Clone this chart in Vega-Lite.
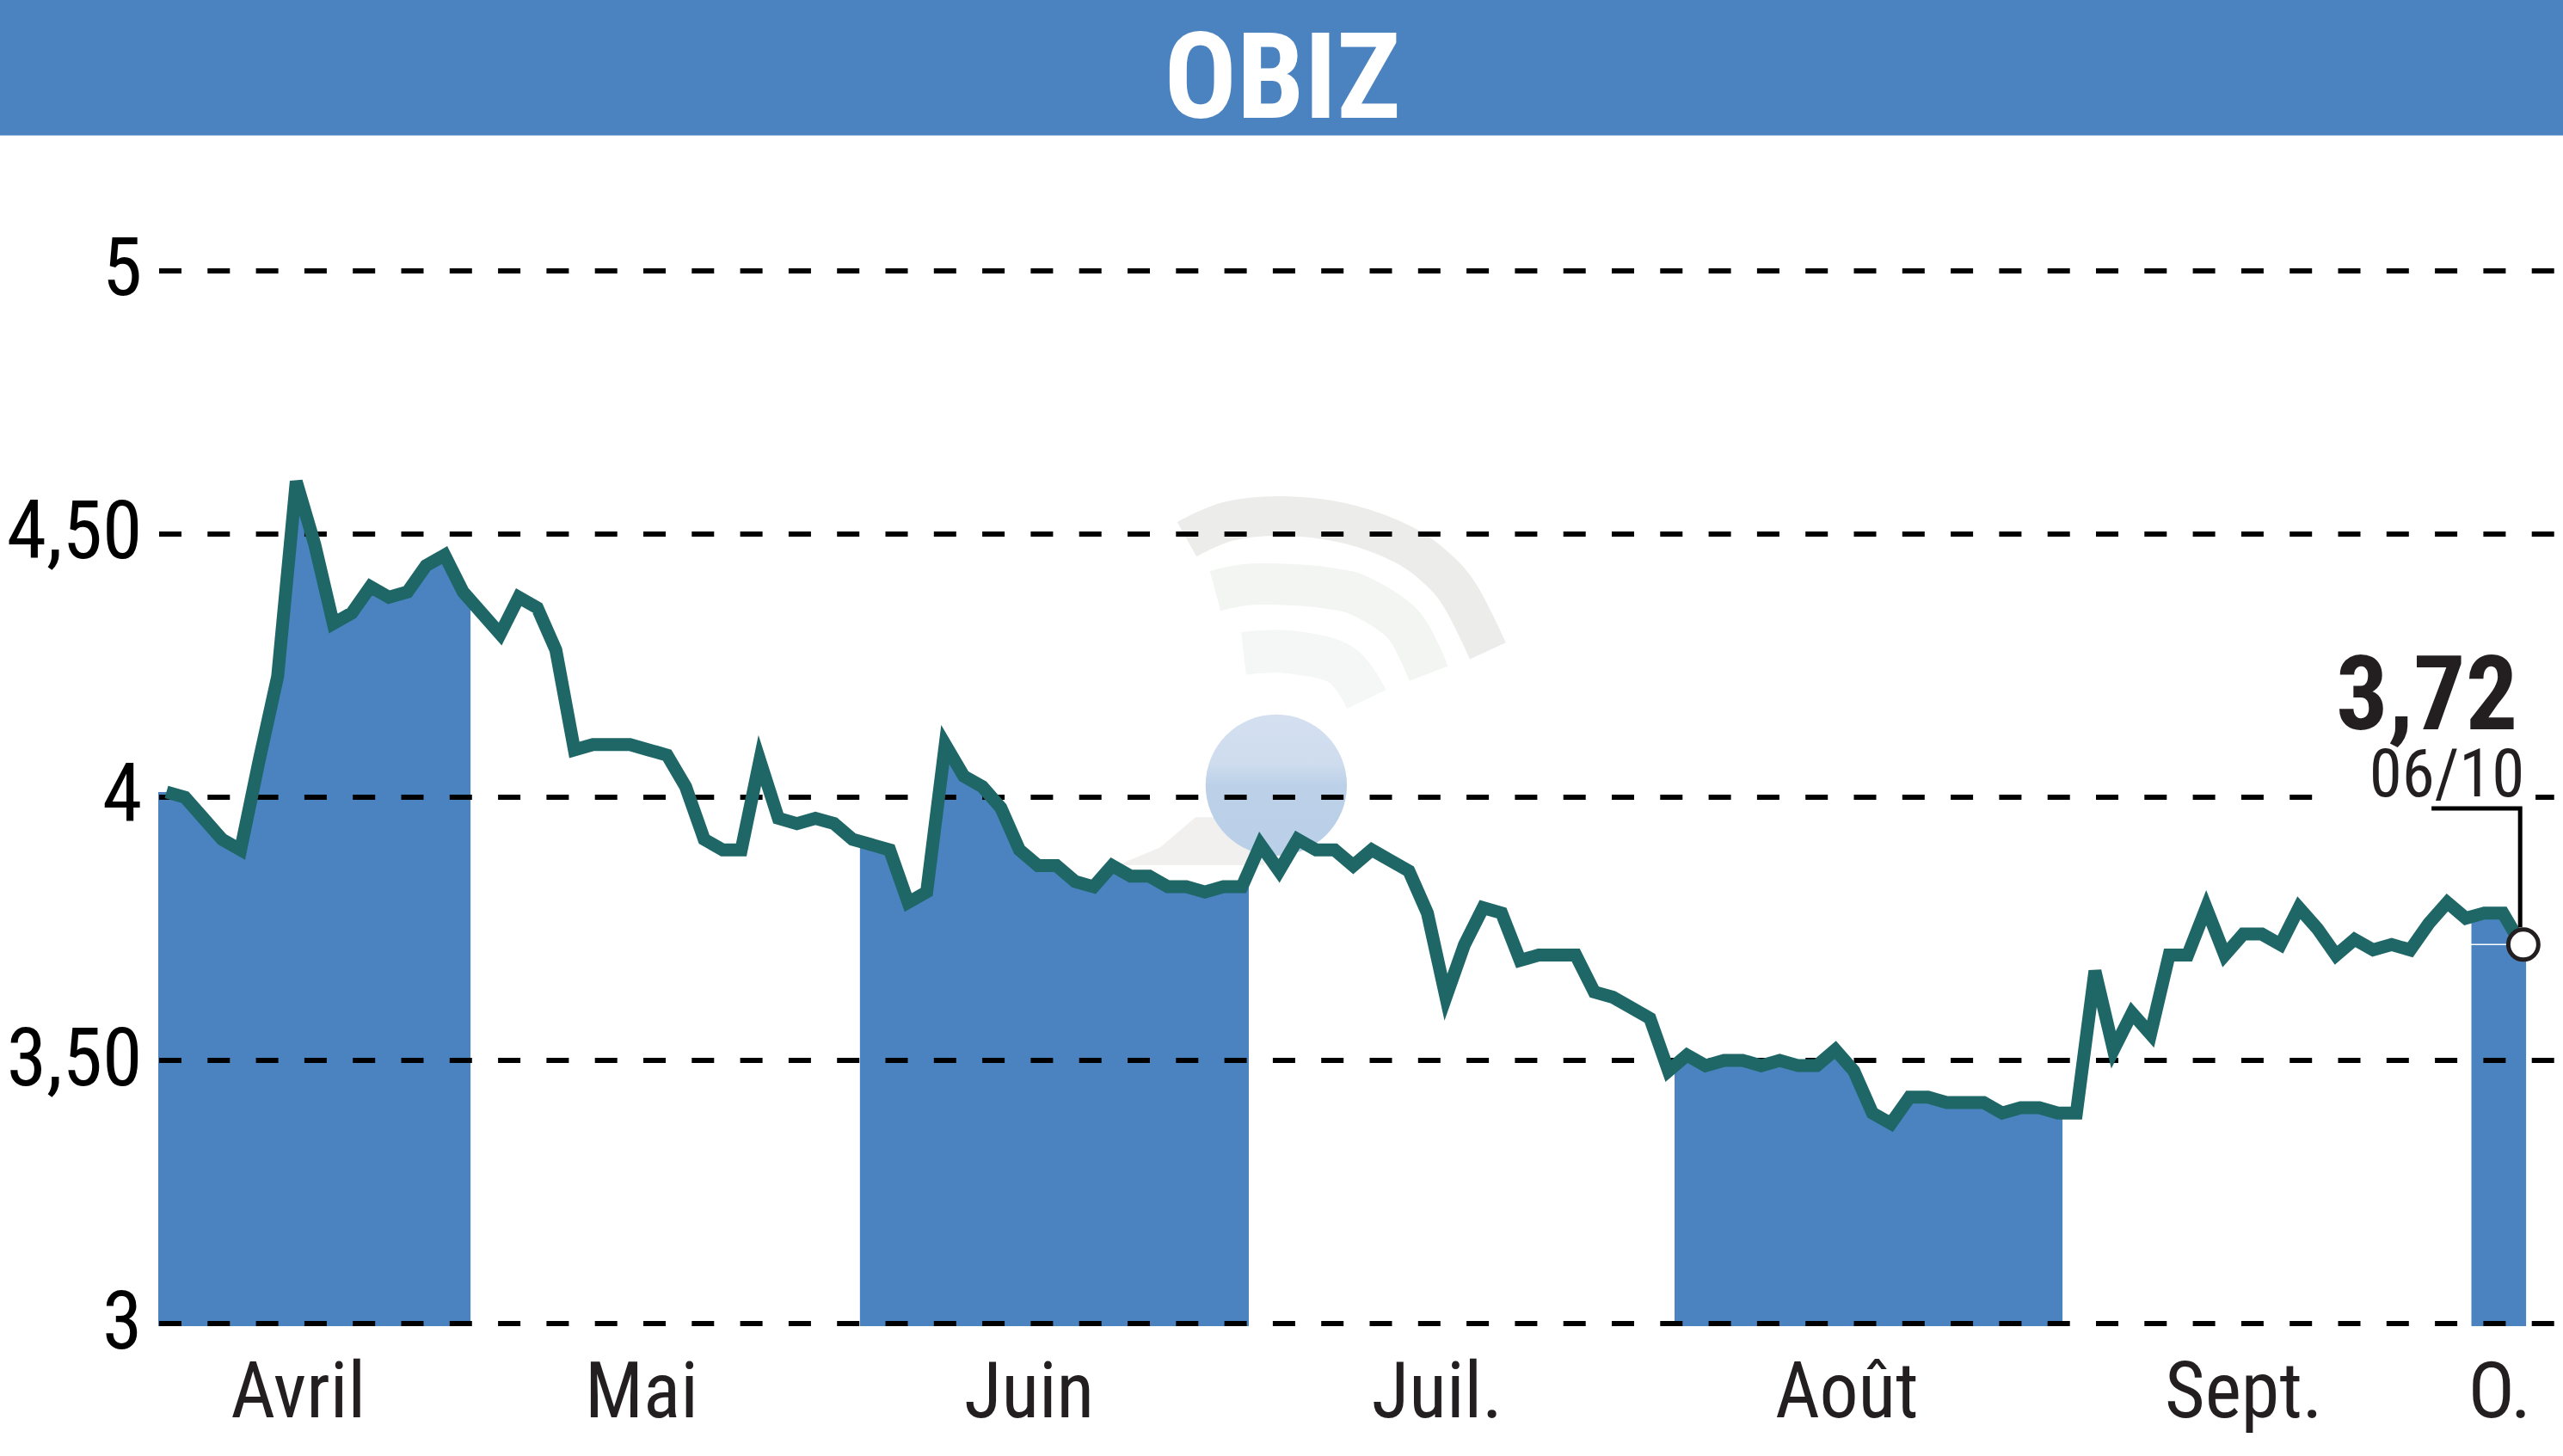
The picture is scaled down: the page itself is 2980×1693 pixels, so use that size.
{
"$schema":"https://vega.github.io/schema/vega-lite/v6.json",
"width":2796,"height":1542,"autosize":"none",
"padding":{"left":184,"top":0,"right":0,"bottom":151},
"background":"white",
"config":{"view":{"stroke":null},"font":"Roboto Condensed, Open Sans Condensed, DejaVu Sans Condensed"},
"datasets":{
"prices":[
{"day":0,"value":4.01},{"day":1,"value":4.00},{"day":2,"value":3.96},{"day":3,"value":3.92},{"day":4,"value":3.90},{"day":5,"value":4.07},{"day":6,"value":4.23},{"day":7,"value":4.60},{"day":8,"value":4.48},{"day":9,"value":4.33},
{"day":10,"value":4.35},{"day":11,"value":4.40},{"day":12,"value":4.38},{"day":13,"value":4.39},{"day":14,"value":4.44},{"day":15,"value":4.46},{"day":16,"value":4.39},{"day":17,"value":4.35},{"day":18,"value":4.31},{"day":19,"value":4.38},
{"day":20,"value":4.36},{"day":21,"value":4.28},{"day":22,"value":4.09},{"day":23,"value":4.10},{"day":24,"value":4.10},{"day":25,"value":4.10},{"day":26,"value":4.09},{"day":27,"value":4.08},{"day":28,"value":4.02},{"day":29,"value":3.92},
{"day":30,"value":3.90},{"day":31,"value":3.90},{"day":32,"value":4.07},{"day":33,"value":3.96},{"day":34,"value":3.95},{"day":35,"value":3.96},{"day":36,"value":3.95},{"day":37,"value":3.92},{"day":38,"value":3.91},{"day":39,"value":3.90},
{"day":40,"value":3.80},{"day":41,"value":3.82},{"day":42,"value":4.10},{"day":43,"value":4.04},{"day":44,"value":4.02},{"day":45,"value":3.98},{"day":46,"value":3.90},{"day":47,"value":3.87},{"day":48,"value":3.87},{"day":49,"value":3.84},
{"day":50,"value":3.83},{"day":51,"value":3.87},{"day":52,"value":3.85},{"day":53,"value":3.85},{"day":54,"value":3.83},{"day":55,"value":3.83},{"day":56,"value":3.82},{"day":57,"value":3.83},{"day":58,"value":3.83},{"day":59,"value":3.91},
{"day":60,"value":3.86},{"day":61,"value":3.92},{"day":62,"value":3.90},{"day":63,"value":3.90},{"day":64,"value":3.87},{"day":65,"value":3.90},{"day":66,"value":3.88},{"day":67,"value":3.86},{"day":68,"value":3.78},{"day":69,"value":3.62},
{"day":70,"value":3.72},{"day":71,"value":3.79},{"day":72,"value":3.78},{"day":73,"value":3.69},{"day":74,"value":3.70},{"day":75,"value":3.70},{"day":76,"value":3.70},{"day":77,"value":3.63},{"day":78,"value":3.62},{"day":79,"value":3.60},
{"day":80,"value":3.58},{"day":81,"value":3.48},{"day":82,"value":3.51},{"day":83,"value":3.49},{"day":84,"value":3.50},{"day":85,"value":3.50},{"day":86,"value":3.49},{"day":87,"value":3.50},{"day":88,"value":3.49},{"day":89,"value":3.49},
{"day":90,"value":3.52},{"day":91,"value":3.48},{"day":92,"value":3.40},{"day":93,"value":3.38},{"day":94,"value":3.43},{"day":95,"value":3.43},{"day":96,"value":3.42},{"day":97,"value":3.42},{"day":98,"value":3.42},{"day":99,"value":3.40},
{"day":100,"value":3.41},{"day":101,"value":3.41},{"day":102,"value":3.40},{"day":103,"value":3.40},{"day":104,"value":3.67},{"day":105,"value":3.52},{"day":106,"value":3.59},{"day":107,"value":3.55},{"day":108,"value":3.70},{"day":109,"value":3.70},
{"day":110,"value":3.79},{"day":111,"value":3.70},{"day":112,"value":3.74},{"day":113,"value":3.74},{"day":114,"value":3.72},{"day":115,"value":3.79},{"day":116,"value":3.75},{"day":117,"value":3.70},{"day":118,"value":3.73},{"day":119,"value":3.71},
{"day":120,"value":3.72},{"day":121,"value":3.71},{"day":122,"value":3.76},{"day":123,"value":3.80},{"day":124,"value":3.77},{"day":125,"value":3.78},{"day":126,"value":3.78},{"day":127,"value":3.72}
],
"shade":[
{"month":"Avril","day":-0.44,"value":4.01},{"month":"Avril","day":0,"value":4.01},{"month":"Avril","day":1,"value":4.00},{"month":"Avril","day":2,"value":3.96},{"month":"Avril","day":3,"value":3.92},{"month":"Avril","day":4,"value":3.90},{"month":"Avril","day":5,"value":4.07},{"month":"Avril","day":6,"value":4.23},{"month":"Avril","day":7,"value":4.60},{"month":"Avril","day":8,"value":4.48},{"month":"Avril","day":9,"value":4.33},{"month":"Avril","day":10,"value":4.35},{"month":"Avril","day":11,"value":4.40},{"month":"Avril","day":12,"value":4.38},{"month":"Avril","day":13,"value":4.39},{"month":"Avril","day":14,"value":4.44},{"month":"Avril","day":15,"value":4.46},{"month":"Avril","day":16,"value":4.39},{"month":"Avril","day":16.4,"value":4.374},
{"month":"Juin","day":37.4,"value":3.916},{"month":"Juin","day":38,"value":3.91},{"month":"Juin","day":39,"value":3.90},{"month":"Juin","day":40,"value":3.80},{"month":"Juin","day":41,"value":3.82},{"month":"Juin","day":42,"value":4.10},{"month":"Juin","day":43,"value":4.04},{"month":"Juin","day":44,"value":4.02},{"month":"Juin","day":45,"value":3.98},{"month":"Juin","day":46,"value":3.90},{"month":"Juin","day":47,"value":3.87},{"month":"Juin","day":48,"value":3.87},{"month":"Juin","day":49,"value":3.84},{"month":"Juin","day":50,"value":3.83},{"month":"Juin","day":51,"value":3.87},{"month":"Juin","day":52,"value":3.85},{"month":"Juin","day":53,"value":3.85},{"month":"Juin","day":54,"value":3.83},{"month":"Juin","day":55,"value":3.83},{"month":"Juin","day":56,"value":3.82},{"month":"Juin","day":57,"value":3.83},{"month":"Juin","day":58,"value":3.83},{"month":"Juin","day":58.37,"value":3.86},
{"month":"Août","day":81.33,"value":3.49},{"month":"Août","day":82,"value":3.51},{"month":"Août","day":83,"value":3.49},{"month":"Août","day":84,"value":3.50},{"month":"Août","day":85,"value":3.50},{"month":"Août","day":86,"value":3.49},{"month":"Août","day":87,"value":3.50},{"month":"Août","day":88,"value":3.49},{"month":"Août","day":89,"value":3.49},{"month":"Août","day":90,"value":3.52},{"month":"Août","day":91,"value":3.48},{"month":"Août","day":92,"value":3.40},{"month":"Août","day":93,"value":3.38},{"month":"Août","day":94,"value":3.43},{"month":"Août","day":95,"value":3.43},{"month":"Août","day":96,"value":3.42},{"month":"Août","day":97,"value":3.42},{"month":"Août","day":98,"value":3.42},{"month":"Août","day":99,"value":3.40},{"month":"Août","day":100,"value":3.41},{"month":"Août","day":101,"value":3.41},{"month":"Août","day":102,"value":3.40},{"month":"Août","day":102.25,"value":3.40},
{"month":"Oct","day":124.3,"value":3.773},{"month":"Oct","day":125,"value":3.78},{"month":"Oct","day":126,"value":3.78},{"month":"Oct","day":127,"value":3.72},{"month":"Oct","day":127.25,"value":3.72}
],
"arcs":[
{"arc":"outer","day":55.03,"value":4.49},{"arc":"outer","day":57.35,"value":4.525},{"arc":"outer","day":60.55,"value":4.534},{"arc":"outer","day":63.84,"value":4.518},{"arc":"outer","day":66.72,"value":4.48},{"arc":"outer","day":68.48,"value":4.436},{"arc":"outer","day":69.78,"value":4.382},{"arc":"outer","day":71.26,"value":4.278},
{"arc":"middle","day":56.56,"value":4.392},{"arc":"middle","day":58.28,"value":4.404},{"arc":"middle","day":60.55,"value":4.404},{"arc":"middle","day":62.68,"value":4.397},{"arc":"middle","day":64.4,"value":4.382},{"arc":"middle","day":66.72,"value":4.327},{"arc":"middle","day":68.07,"value":4.235},
{"arc":"inner","day":58.09,"value":4.273},{"arc":"inner","day":60.55,"value":4.276},{"arc":"inner","day":63.33,"value":4.252},{"arc":"inner","day":64.72,"value":4.186}
]
},
"encoding":{
"x":{"field":"day","type":"quantitative","title":null,
"scale":{"domain":[-0.44,129.24],"nice":false,"zero":false},
"axis":{"domain":false,"ticks":false,"grid":false,"values":[7.08,25.6,46.5,68.5,90.6,112,125.8],
"labelExpr":"datum.value==7.08?'Avril':datum.value==25.6?'Mai':datum.value==46.5?'Juin':datum.value==68.5?'Juil.':datum.value==90.6?'Août':datum.value==112?'Sept.':'O.'",
"labelFont":"Roboto Condensed, Open Sans Condensed, DejaVu Sans Condensed","labelFontSize":90,"labelLimit":1000,"labelColor":"#231F20","labelBaseline":"alphabetic","labelPadding":105,"labelFlush":false,"labelOverlap":false,"labelBound":false,"labelAlign":"center"}},
"y":{"field":"value","type":"quantitative","title":null,
"scale":{"domain":[2.9951,5.5147],"nice":false,"zero":false},
"axis":{"domain":false,"ticks":false,"grid":false,"values":[3,3.5,4,4.5,5],
"labelExpr":"datum.value==4.5?'4,50':datum.value==3.5?'3,50':datum.value==4?'4':datum.value==3?'3':'5'",
"labelFont":"Roboto Condensed, Open Sans Condensed, DejaVu Sans Condensed","labelFontSize":94,"labelLimit":1000,"labelColor":"#000000","labelPadding":19,"labelBaseline":"middle","labelOverlap":false,"labelBound":false,"labelFlush":false}}
},
"layer":[
{"data":{"values":[{"day":-9,"day2":129.3,"value":5.2574,"value2":5.5147}]},
 "mark":{"type":"rect","fill":"#4A83C0","clip":false},
 "encoding":{"x2":{"field":"day2"},"y2":{"field":"value2"}}},
{"data":{"values":[{"label":"OBIZ","day":60.18,"value":5.291}]},
 "mark":{"type":"text","fontWeight":"bold","fontSize":140,"color":"white","align":"center","baseline":"alphabetic","font":"Roboto Condensed, Open Sans Condensed, DejaVu Sans Condensed"},
 "encoding":{"text":{"field":"label"}}},
{"data":{"name":"arcs"},
 "mark":{"type":"line","interpolate":"cardinal","strokeCap":"butt"},
 "encoding":{"color":{"field":"arc","type":"nominal","legend":null,"scale":{"domain":["outer","middle","inner"],"range":["#ECEDEB","#F2F5F2","#F5F7F6"]}},
 "strokeWidth":{"field":"arc","type":"nominal","legend":null,"scale":{"domain":["outer","middle","inner"],"range":[46,50,48]}}}},
{"data":{"values":[{"day":51.3,"value":3.871},{"day":53.6,"value":3.905},{"day":55.5,"value":3.962},{"day":59.2,"value":3.962}]},
 "mark":{"type":"area","color":"#F1F0EE"},
 "encoding":{"y2":{"datum":3.871}}},
{"data":{"values":[{"day":59.85,"value":4.023}]},
 "mark":{"type":"point","filled":true,"size":27000,"opacity":1,
 "fill":{"x1":0,"y1":0,"x2":0,"y2":1,"gradient":"linear","stops":[{"offset":0,"color":"#D4E0F0"},{"offset":0.35,"color":"#CEDCEE"},{"offset":0.5,"color":"#BCD1E8"},{"offset":1,"color":"#BAD0E8"}]}}},
{"data":{"name":"shade"},
 "mark":{"type":"area","color":"#4A83C0","line":false},
 "encoding":{"detail":{"field":"month"},"y2":{"datum":2.9951}}},
{"data":{"values":[{"value":3},{"value":3.5},{"value":4},{"value":4.5},{"value":5}]},
 "mark":{"type":"rule","color":"#000000","strokeWidth":6,"strokeDash":[26,30.3],"strokeDashOffset":46},
 "encoding":{"x":null}},
{"data":{"values":[{"day":116.26,"day2":127.76,"value":3.985,"value2":4.015}]},
 "mark":{"type":"rect","fill":"white"},
 "encoding":{"x2":{"field":"day2"},"y2":{"field":"value2"}}},
{"data":{"values":[{"day":124.28,"day2":126.4,"value":3.72}]},
 "mark":{"type":"rule","color":"white","strokeWidth":1.5},
 "encoding":{"x2":{"field":"day2"}}},
{"data":{"name":"prices"},
 "mark":{"type":"line","color":"#1F6767","strokeWidth":15,"strokeJoin":"miter"}},
{"data":{"values":[{"seq":1,"day":122.15,"value":3.9788},{"seq":2,"day":126.93,"value":3.9788},{"seq":3,"day":126.93,"value":3.753}]},
 "mark":{"type":"line","color":"#000000","strokeWidth":5,"strokeJoin":"miter"},
 "encoding":{"order":{"field":"seq"}}},
{"data":{"values":[{"day":127.1,"value":3.72}]},
 "mark":{"type":"point","shape":"circle","filled":false,"fill":"white","fillOpacity":1,"opacity":1,"stroke":"#231F20","strokeWidth":5,"size":1225}},
{"data":{"values":[{"label":"3,72","day":126.8,"value":4.129}]},
 "mark":{"type":"text","fontWeight":"bold","fontSize":120,"color":"#231F20","align":"right","baseline":"alphabetic","font":"Roboto Condensed, Open Sans Condensed, DejaVu Sans Condensed"},
 "encoding":{"text":{"field":"label"}}},
{"data":{"values":[{"label":"06/10","day":127.17,"value":4.0016}]},
 "mark":{"type":"text","fontSize":77,"color":"#231F20","align":"right","baseline":"alphabetic","font":"Roboto Condensed, Open Sans Condensed, DejaVu Sans Condensed"},
 "encoding":{"text":{"field":"label"}}}
]
}
